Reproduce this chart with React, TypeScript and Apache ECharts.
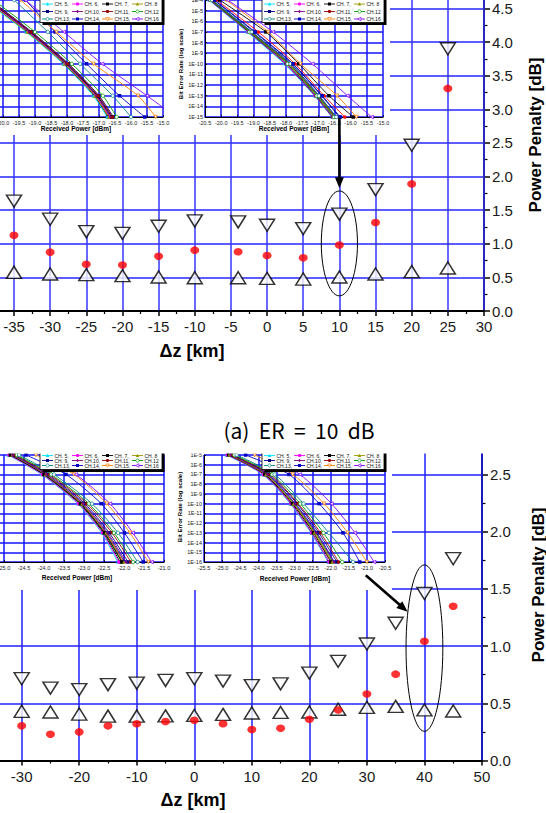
import React, { useEffect, useRef } from 'react';
import * as echarts from 'echarts';

const topDz = [-35, -30, -25, -20, -15, -10, -4, 0, 5, 10, 15, 20, 25];
const topUpper = [1.635, 1.365, 1.18, 1.155, 1.26, 1.34, 1.325, 1.275, 1.225, 1.44, 1.805, 2.465, 3.9];
const topMid = [1.125, 0.875, 0.695, 0.685, 0.815, 0.905, 0.88, 0.825, 0.79, 0.98, 1.315, 1.89, 3.31];
const topLower = [0.575, 0.55, 0.54, 0.525, 0.505, 0.495, 0.495, 0.485, 0.475, 0.505, 0.55, 0.585, 0.64];

const botDz = [-30, -25, -20, -15, -10, -5, 0, 5, 10, 15, 20, 25, 30, 35, 40, 45];
const botUpper = [0.715, 0.633, 0.62, 0.663, 0.676, 0.7, 0.715, 0.694, 0.655, 0.67, 0.764, 0.867, 1.018, 1.2, 1.46, 1.764];
const botMid = [0.303, 0.23, 0.25, 0.303, 0.321, 0.34, 0.352, 0.321, 0.27, 0.282, 0.36, 0.442, 0.582, 0.755, 1.042, 1.349];
const botLower = [0.43, 0.424, 0.406, 0.388, 0.388, 0.39, 0.394, 0.403, 0.415, 0.42, 0.424, 0.448, 0.464, 0.473, 0.442, 0.433];

const channelNames = ['CH. 1,', 'CH. 2,', 'CH. 3,', 'CH. 4', 'CH. 5,', 'CH. 6,', 'CH. 7,', 'CH. 8', 'CH. 9,', 'CH.10,', 'CH.11,', 'CH.12', 'CH.13,', 'CH.14,', 'CH.15,', 'CH.16'];
const channelColors = ['#000000', '#ff0000', '#00b000', '#0000ff', '#00e5ff', '#ff00ff', '#000000', '#999900', '#000080', '#800080', '#990000', '#009900', '#008080', '#0000c0', '#ff8000', '#8000ff'];
const channelMarkers = ['rect', 'circle', 'up', 'down', 'up', 'circle', 'rect', 'up', 'rect', 'diamond', 'circle', 'circle', 'circle', 'rect', 'down', 'left'];
const channelHollow = [false, false, false, false, false, false, false, false, false, false, false, true, true, false, true, true];

const a1Levels = [-4, -7, -10, -13, -15];
const a1Powers = [
  [-20.55, -19.25, -18.1, -17.15, -16.72],
  [-20.5, -19.2, -18.07, -17.12, -16.68],
  [-20.5, -19.22, -18.05, -17.1, -16.66],
  [-20.45, -19.18, -18.02, -17.07, -16.63],
  [-20.6, -19.28, -18.12, -17.18, -16.75],
  [-20.52, -19.21, -18.06, -17.11, -16.67],
  [-20.45, -19.15, -18.0, -17.05, -16.6],
  [-20.55, -19.25, -18.08, -17.13, -16.7],
  [-20.4, -19.1, -17.95, -17.0, -16.55],
  [-20.48, -19.18, -18.03, -17.08, -16.64],
  [-20.42, -19.12, -17.97, -17.02, -16.58],
  [-20.3, -19.0, -17.85, -16.88, -16.45],
  [-19.65, -18.6, -17.59, -16.57, -16.0],
  [-19.3, -18.37, -17.39, -16.36, -15.57],
  [-19.45, -18.33, -17.17, -15.78, -15.23],
  [-19.3, -18.1, -16.9, -15.5, -14.6],
];

const a2Levels = [-4, -7, -10, -13, -15];
const a2Powers = [
  [-20.35, -19.15, -17.98, -17.08, -16.55],
  [-20.15, -18.85, -17.72, -16.82, -16.18],
  [-20.3, -19.1, -17.9, -17.02, -16.5],
  [-20.28, -19.05, -17.85, -16.97, -16.45],
  [-20.38, -19.2, -18.05, -17.12, -16.58],
  [-20.36, -19.17, -18.0, -17.1, -16.56],
  [-20.05, -18.62, -17.6, -16.67, -15.92],
  [-20.32, -19.12, -17.92, -17.04, -16.5],
  [-20.22, -18.98, -17.8, -16.9, -16.35],
  [-20.36, -19.16, -18.02, -17.1, -16.57],
  [-20.3, -19.08, -17.9, -17.0, -16.48],
  [-20.33, -19.13, -17.95, -17.05, -16.52],
  [-20.28, -19.06, -17.86, -16.98, -16.44],
  [-20.2, -18.95, -17.78, -16.88, -16.32],
  [-19.85, -18.55, -17.55, -16.42, -15.82],
  [-19.8, -18.4, -17.18, -16.1, -15.35],
];

const b1Levels = [-5, -7, -10, -13, -16];
const b1Powers = [
  [-24.85, -24.02, -23.12, -22.52, -22.1],
  [-24.8, -23.97, -23.07, -22.47, -22.02],
  [-24.82, -24.0, -23.1, -22.5, -22.06],
  [-24.78, -23.95, -23.04, -22.44, -21.98],
  [-24.9, -24.06, -23.16, -22.56, -22.16],
  [-24.88, -24.04, -23.14, -22.54, -22.13],
  [-24.84, -24.0, -23.09, -22.49, -22.05],
  [-24.8, -23.96, -23.05, -22.45, -22.0],
  [-24.75, -23.9, -22.98, -22.37, -21.9],
  [-24.78, -23.94, -23.02, -22.41, -21.95],
  [-24.72, -23.86, -22.93, -22.3, -21.83],
  [-24.68, -23.82, -22.88, -22.25, -21.77],
  [-24.62, -23.75, -22.8, -22.15, -21.66],
  [-24.45, -23.45, -22.57, -21.99, -21.52],
  [-24.2, -23.25, -22.43, -21.85, -21.39],
  [-24.0, -23.2, -22.35, -21.78, -21.31],
];

const b2Levels = [-5, -7, -10, -13, -16];
const b2Powers = [
  [-24.85, -23.85, -23.1, -22.52, -22.05],
  [-24.8, -23.8, -23.05, -22.46, -21.98],
  [-24.78, -23.77, -23.02, -22.42, -21.94],
  [-24.75, -23.74, -22.98, -22.38, -21.9],
  [-24.88, -23.88, -23.12, -22.55, -22.07],
  [-24.86, -23.86, -23.1, -22.53, -22.05],
  [-24.82, -23.82, -23.06, -22.48, -22.0],
  [-24.8, -23.79, -23.03, -22.45, -21.96],
  [-24.72, -23.7, -22.93, -22.33, -21.83],
  [-24.76, -23.75, -22.99, -22.4, -21.91],
  [-24.7, -23.67, -22.9, -22.28, -21.78],
  [-24.66, -23.62, -22.84, -22.2, -21.68],
  [-24.6, -23.55, -22.75, -22.05, -21.38],
  [-24.35, -23.15, -22.32, -21.66, -21.2],
  [-24.1, -23.05, -22.18, -21.53, -21.0],
  [-23.8, -22.85, -21.98, -21.33, -20.8],
];

const FONT = 'Liberation Sans, Arial, sans-serif';

const symbolOf = (k: string) => {
  switch (k) {
    case 'rect': return ['rect', 0];
    case 'circle': return ['circle', 0];
    case 'up': return ['triangle', 0];
    case 'down': return ['triangle', 180];
    case 'diamond': return ['diamond', 0];
    default: return ['triangle', 90];
  }
};

function insetSeries(idx: number, levels: number[], powers: number[][]) {
  return powers.map((pw, i) => {
    const [sym, rot] = symbolOf(channelMarkers[i]);
    return {
      type: 'line',
      name: channelNames[i],
      xAxisIndex: idx,
      yAxisIndex: idx,
      data: pw.map((p, j) => [p, levels[j]]),
      smooth: 0.25,
      symbol: sym,
      symbolRotate: rot,
      symbolSize: 3.5,
      showSymbol: true,
      lineStyle: { color: channelColors[i], width: 0.9 },
      itemStyle: channelHollow[i]
        ? { color: '#fff', borderColor: channelColors[i], borderWidth: 0.8 }
        : { color: channelColors[i], borderWidth: 0 },
      z: 6,
      z2: i,
      silent: true,
      clip: true,
    };
  });
}

function insetX(idx: number, min: number, max: number) {
  return {
    gridIndex: idx, type: 'value', min, max, interval: 0.5, z: 5,
    axisLine: { show: true, onZero: false, lineStyle: { color: '#000', width: 1 } },
    axisTick: { show: true, inside: true, length: 2, lineStyle: { color: '#000', width: 0.8 } },
    axisLabel: { fontSize: 5.5, margin: 3, color: '#222', fontFamily: FONT, hideOverlap: false, formatter: (v: number) => v.toFixed(1) },
    splitLine: { show: true, lineStyle: { color: '#1414ff', width: 1.5 } },
  };
}
function insetY(idx: number, min: number, max: number) {
  return {
    gridIndex: idx, type: 'value', min, max, interval: 1, z: 5,
    axisLine: { show: true, onZero: false, lineStyle: { color: '#000', width: 1 } },
    axisTick: { show: true, inside: true, length: 2, lineStyle: { color: '#000', width: 0.8 } },
    axisLabel: { fontSize: 5.5, margin: 2, color: '#222', fontFamily: FONT, hideOverlap: false, formatter: (v: number) => '1E' + v },
    splitLine: { show: true, lineStyle: { color: '#1414ff', width: 1.5 } },
  };
}

function markerEl(kind: string, cx: number, cy: number, color: string, hollow: boolean, z2: number) {
  const style = hollow ? { fill: '#fff', stroke: color, lineWidth: 0.7 } : { fill: color };
  const s = 1.8;
  const base: any = { z: 8, z2, silent: true, style };
  switch (kind) {
    case 'rect': return { ...base, type: 'rect', shape: { x: cx - 1.5, y: cy - 1.5, width: 3, height: 3 } };
    case 'circle': return { ...base, type: 'circle', shape: { cx, cy, r: 1.6 } };
    case 'up': return { ...base, type: 'polygon', shape: { points: [[cx, cy - s], [cx + s, cy + s * 0.8], [cx - s, cy + s * 0.8]] } };
    case 'down': return { ...base, type: 'polygon', shape: { points: [[cx, cy + s], [cx + s, cy - s * 0.8], [cx - s, cy - s * 0.8]] } };
    case 'diamond': return { ...base, type: 'polygon', shape: { points: [[cx, cy - s], [cx + s * 0.8, cy], [cx, cy + s], [cx - s * 0.8, cy]] } };
    default: return { ...base, type: 'polygon', shape: { points: [[cx - s, cy], [cx + s * 0.8, cy - s], [cx + s * 0.8, cy + s]] } };
  }
}

function legendEls(x0: number, yTop: number, yBottom: number, rows: number[]) {
  const w = 122;
  const els: any[] = [];
  let z2 = 0;
  els.push({ type: 'rect', z: 8, z2: z2++, silent: true, shape: { x: x0 + 2.5, y: yTop + 2.5, width: w, height: yBottom - yTop }, style: { fill: '#000' } });
  els.push({ type: 'rect', z: 8, z2: z2++, silent: true, shape: { x: x0, y: yTop, width: w, height: yBottom - yTop }, style: { fill: '#fff', stroke: '#000', lineWidth: 0.8 } });
  const colX = [2, 32, 62, 92];
  channelNames.forEach((name, i) => {
    const r = Math.floor(i / 4);
    const c = i % 4;
    const cx = x0 + colX[c];
    const cy = rows[r];
    els.push({ type: 'line', z: 8, z2: z2++, silent: true, shape: { x1: cx, y1: cy, x2: cx + 11, y2: cy }, style: { stroke: channelColors[i], lineWidth: 0.9 } });
    els.push(markerEl(channelMarkers[i], cx + 5.5, cy, channelColors[i], channelHollow[i], z2++));
    els.push({ type: 'text', z: 8, z2: z2++, silent: true, x: cx + 12.5, y: cy, style: { text: name, fontSize: 5, fontFamily: FONT, fill: '#111', verticalAlign: 'middle', align: 'left' } });
  });
  return els;
}

function textEl(text: string, x: number, y: number, size: number, weight: string, rot = 0, family = FONT) {
  return {
    type: 'text', x, y, rotation: rot, z: 10, silent: true,
    style: { text, fontSize: size, fontWeight: weight, fontFamily: family, fill: '#000', align: 'center', verticalAlign: 'middle' },
  };
}

function arrowEls(x1: number, y1: number, x2: number, y2: number) {
  const dx = x2 - x1, dy = y2 - y1;
  const L = Math.hypot(dx, dy);
  const ux = dx / L, uy = dy / L;
  const hl = 11, hw = 4.5;
  const bx = x2 - ux * hl, by = y2 - uy * hl;
  return [
    { type: 'line', z: 10, silent: true, shape: { x1, y1, x2: bx + ux * 2, y2: by + uy * 2 }, style: { stroke: '#000', lineWidth: 2.6 } },
    { type: 'polygon', z: 10, silent: true, shape: { points: [[x2, y2], [bx - uy * hw, by + ux * hw], [bx + uy * hw, by - ux * hw]] }, style: { fill: '#000' } },
  ];
}

function buildOption() {
  const mainX = (idx: number, min: number, max: number, interval: number, gridColor: string, gw: number) => ({
    gridIndex: idx, type: 'value', min, max, interval, z: 1,
    axisLine: { show: true, onZero: false, lineStyle: { color: '#000', width: 2 } },
    axisTick: { show: true, inside: false, length: 5, lineStyle: { color: '#000', width: 1.5 } },
    minorTick: { show: true, splitNumber: 2, length: 3, lineStyle: { color: '#000', width: 1.2 } },
    axisLabel: { fontSize: 15, color: '#1a1a1a', margin: 8, fontFamily: FONT, hideOverlap: false },
    splitLine: { show: true, lineStyle: { color: gridColor, width: gw } },
  });
  const mainY = (idx: number, max: number, gridColor: string, gw: number) => ({
    gridIndex: idx, type: 'value', position: 'right', min: 0, max, interval: 0.5, z: 0,
    axisLine: { show: true, onZero: false, lineStyle: { color: '#000', width: 2 } },
    axisTick: { show: true, inside: false, length: 6, lineStyle: { color: '#000', width: 1.5 } },
    minorTick: { show: true, splitNumber: 2, length: 3.5, lineStyle: { color: '#000', width: 1.2 } },
    axisLabel: { fontSize: 15, color: '#1a1a1a', margin: 8, fontFamily: FONT, hideOverlap: false, formatter: (v: number) => v.toFixed(1) },
    splitLine: { show: true, lineStyle: { color: gridColor, width: gw } },
  });

  const tri = (idx: number, xs: number[], ys: number[], down: boolean) => ({
    type: 'scatter', xAxisIndex: idx, yAxisIndex: idx,
    data: xs.map((x, i) => [x, ys[i]]),
    symbol: 'triangle', symbolRotate: down ? 180 : 0, symbolSize: [15, 12],
    itemStyle: { color: '#fff', borderColor: '#000', borderWidth: 1.5 },
    z: 3, silent: true,
  });
  const dots = (idx: number, xs: number[], ys: number[]) => ({
    type: 'scatter', xAxisIndex: idx, yAxisIndex: idx,
    data: xs.map((x, i) => [x, ys[i]]),
    symbol: 'circle', symbolSize: [9, 7.5],
    itemStyle: { color: '#ff0000' },
    z: 3, silent: true,
  });

  const g = (left: number, top: number, width: number, height: number) => ({
    left, top, width, height, containLabel: false, outerBoundsMode: 'none',
  });

  return {
    animation: false,
    backgroundColor: '#fff',
    grid: [
      g(-22.15, -25.25, 506.15, 336.25),
      g(-35.84, 417.3, 517.8, 343.2),
      g(-13, 0, 176, 117),
      g(205, 0, 178, 117),
      g(-16, 455, 180, 107),
      g(204, 455, 181, 107),
    ],
    xAxis: [
      mainX(0, -40, 30, 5, '#3636ff', 1.5),
      mainX(1, -40, 50, 10, '#2020ff', 1.5),
      insetX(2, -20.5, -15),
      insetX(3, -20.5, -15),
      insetX(4, -25.5, -21),
      insetX(5, -25.5, -20.5),
    ],
    yAxis: [
      mainY(0, 5, '#5c5cff', 2),
      mainY(1, 3, '#2020ff', 1.5),
      insetY(2, -15, -4),
      insetY(3, -15, -4),
      insetY(4, -16, -5),
      insetY(5, -16, -5),
    ],
    series: [
      tri(0, topDz, topUpper, true),
      tri(0, topDz, topLower, false),
      dots(0, topDz, topMid),
      tri(1, botDz, botUpper, true),
      tri(1, botDz, botLower, false),
      dots(1, botDz, botMid),
      ...insetSeries(2, a1Levels, a1Powers),
      ...insetSeries(3, a2Levels, a2Powers),
      ...insetSeries(4, b1Levels, b1Powers),
      ...insetSeries(5, b2Levels, b2Powers),
    ],
  };
}

export default function App() {
  const ref = useRef<HTMLDivElement>(null);
  useEffect(() => {
    const chart = echarts.init(ref.current!, null, { renderer: 'svg', width: 546, height: 813 });
    chart.setOption(buildOption() as any);
    const px = (gi: number, x: number, y: number) => chart.convertToPixel({ gridIndex: gi } as any, [x, y]) as number[];

    const e1a = px(0, 7.5, 0.225), e1b = px(0, 12.5, 1.785);
    const e2a = px(1, 36.8, 0.255), e2b = px(1, 43.2, 1.71);
    const tip1 = px(0, 10, 1.825);
    const tail2 = px(1, 29.8, 1.62), tip2 = px(1, 37.07, 1.3);

    const elements: any[] = [
      { type: 'rect', z: 2, silent: true, shape: { x: -5, y: -5, width: 395, height: 140 }, style: { fill: '#fff' } },
      { type: 'rect', z: 2, silent: true, shape: { x: -5, y: 450, width: 397, height: 140 }, style: { fill: '#fff' } },
      { type: 'rect', z: 9, silent: true, shape: { x: 0, y: 400, width: 546, height: 53.5 }, style: { fill: '#fff' } },
      ...legendEls(40, -8, 22.5, [-3.5, 4, 11.5, 19]),
      ...legendEls(262, -8, 22.5, [-3.5, 4, 11.5, 19]),
      ...legendEls(40, 445, 469.5, [450.5, 455.5, 460.5, 465.5]),
      ...legendEls(262, 445, 469.5, [450.5, 455.5, 460.5, 465.5]),
      textEl('Received Power [dBm]', 76, 128, 6.5, 'bold'),
      textEl('Received Power [dBm]', 294, 128, 6.5, 'bold'),
      textEl('Bit Error Rate (log scale)', 181, 64, 6, 'bold', Math.PI / 2),
      textEl('Received Power [dBm]', 77, 577, 6.5, 'bold'),
      textEl('Received Power [dBm]', 295, 578, 6.5, 'bold'),
      textEl('Bit Error Rate (log scale)', 180, 507, 6, 'bold', Math.PI / 2),
      textEl('Δz [km]', 192, 351, 18, 'bold'),
      textEl('Δz [km]', 193, 800, 18, 'bold'),
      textEl('Power Penalty [dB]', 535, 135, 17, 'bold', Math.PI / 2),
      textEl('Power Penalty [dB]', 538, 585, 17, 'bold', Math.PI / 2),
      textEl('(a)  ER  =  10  dB', 299, 430, 21, 'normal', 0, 'Noto Sans CJK KR, sans-serif'),
      { type: 'ellipse', z: 10, silent: true, shape: { cx: (e1a[0] + e1b[0]) / 2, cy: (e1a[1] + e1b[1]) / 2, rx: Math.abs(e1b[0] - e1a[0]) / 2, ry: Math.abs(e1b[1] - e1a[1]) / 2 }, style: { fill: 'none', stroke: '#000', lineWidth: 1 } },
      { type: 'ellipse', z: 10, silent: true, shape: { cx: (e2a[0] + e2b[0]) / 2, cy: (e2a[1] + e2b[1]) / 2, rx: Math.abs(e2b[0] - e2a[0]) / 2, ry: Math.abs(e2b[1] - e2a[1]) / 2 }, style: { fill: 'none', stroke: '#000', lineWidth: 1 } },
      ...arrowEls(tip1[0], 118, tip1[0], tip1[1]),
      ...arrowEls(tail2[0], tail2[1], tip2[0], tip2[1]),
    ];
    chart.setOption({ graphic: { elements } } as any);
    return () => chart.dispose();
  }, []);
  return <div ref={ref} style={{ position: 'absolute', left: 0, top: 0, width: 546, height: 813 }} />;
}
